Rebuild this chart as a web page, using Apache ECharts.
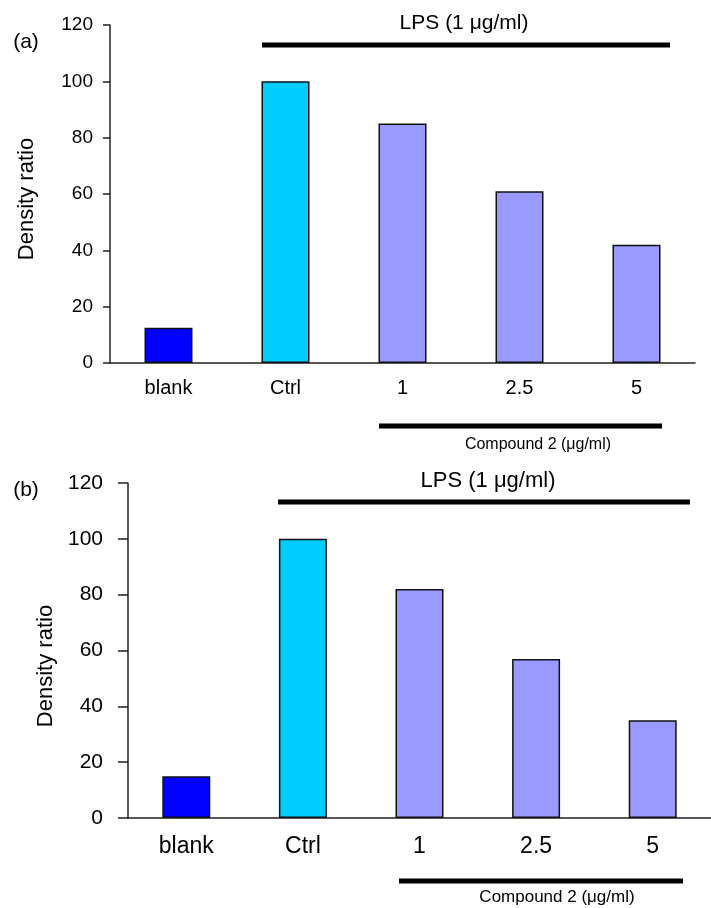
<!DOCTYPE html>
<html>
<head>
<meta charset="utf-8">
<script src="https://cdn.jsdelivr.net/npm/echarts@6/dist/echarts.min.js"></script>
<style>
  html, body { margin: 0; padding: 0; background: #fff; }
  #main { width: 711px; height: 908px; }
</style>
</head>
<body>
<div id="main"></div>
<script>
var categories = ['blank', 'Ctrl', '1', '2.5', '5'];
var valuesA = [12.5, 100, 85, 61, 42];
var valuesB = [15, 100, 82, 57, 35];
var barColors = ['#0000ff', '#00ccff', '#9999ff', '#9999ff', '#9999ff'];
var yTicks = [0, 20, 40, 60, 80, 100, 120];

var font = '"Liberation Sans", Arial, sans-serif';

function bars(vals) {
    return vals.map(function (v, i) {
        return { value: v, itemStyle: { color: barColors[i] } };
    });
}

function xAxisFor(idx, size, margin) {
    return {
        type: 'category',
        gridIndex: idx,
        data: categories,
        axisLine: { lineStyle: { color: '#222', width: 1.5 } },
        axisTick: { length: 6, lineStyle: { color: '#222', width: 1.5 } },
        axisLabel: { color: '#000', fontFamily: font, fontSize: size, margin: margin }
    };
}

function yAxisFor(idx, size, margin, tick) {
    return {
        type: 'value',
        gridIndex: idx,
        min: yTicks[0],
        max: yTicks[yTicks.length - 1],
        interval: 20,
        splitLine: { show: false },
        axisLine: { show: true, lineStyle: { color: '#222', width: 1.5 } },
        axisTick: { show: true, length: tick, lineStyle: { color: '#222', width: 1.5 } },
        axisLabel: { color: '#000', fontFamily: font, fontSize: size, margin: margin }
    };
}

function label(text, x, y, size, rot) {
    return {
        type: 'text',
        x: x, y: y,
        rotation: rot || 0,
        style: {
            text: text, fill: '#000', font: size + 'px ' + font,
            align: 'center', verticalAlign: 'middle'
        }
    };
}

function rule(x1, x2, y) {
    return {
        type: 'line',
        shape: { x1: x1, y1: y, x2: x2, y2: y },
        style: { stroke: '#000', lineWidth: 5 }
    };
}

var chart = echarts.init(document.getElementById('main'));
chart.setOption({
    backgroundColor: '#fff',
    animation: false,
    grid: [
        { left: 110, top: 25, width: 585, height: 338 },
        { left: 128, top: 483, width: 583, height: 335 }
    ],
    xAxis: [xAxisFor(0, 20, 15), xAxisFor(1, 23, 17)],
    yAxis: [yAxisFor(0, 19, 17, 7), yAxisFor(1, 21, 25, 10)],
    series: [
        {
            type: 'bar', xAxisIndex: 0, yAxisIndex: 0, barWidth: 48,
            itemStyle: { borderColor: '#111', borderWidth: 1.5 },
            data: bars(valuesA)
        },
        {
            type: 'bar', xAxisIndex: 1, yAxisIndex: 1, barWidth: 48,
            itemStyle: { borderColor: '#111', borderWidth: 1.5 },
            data: bars(valuesB)
        }
    ],
    graphic: [
        label('(a)', 26, 42, 21),
        label('Density ratio', 27, 199, 22, Math.PI / 2),
        label('LPS (1 μg/ml)', 464, 23, 21),
        rule(262, 670, 45),
        rule(379, 662, 426),
        label('Compound 2 (μg/ml)', 538, 445, 16),

        label('(b)', 26, 490, 21),
        label('Density ratio', 46, 666, 22, Math.PI / 2),
        label('LPS (1 μg/ml)', 488, 481, 22),
        rule(278, 690, 502),
        rule(399, 683, 881),
        label('Compound 2 (μg/ml)', 557, 897, 17)
    ]
});
</script>
</body>
</html>
